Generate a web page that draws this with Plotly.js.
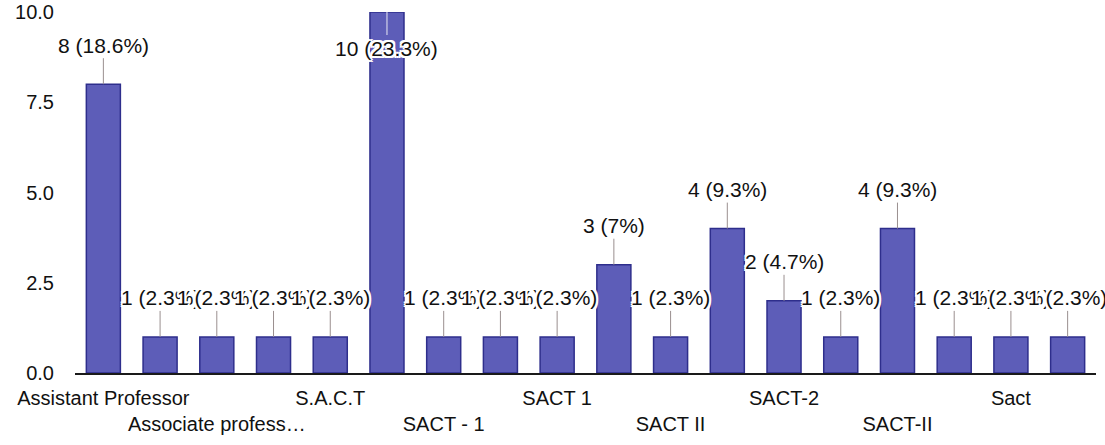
<!DOCTYPE html>
<html>
<head>
<meta charset="utf-8">
<script src="https://cdn.plot.ly/plotly-3.0.1.min.js"></script>
<style>html,body{margin:0;padding:0;background:#fff;}#chart{width:1105px;height:445px;}</style>
</head>
<body>
<div id="chart"></div>
<script>
// Categories (sorted as in the source chart); only every other one is labelled
const categories = [
  "Assistant Professor", "Assistant professor", "Associate professor", "Guest Lecturer",
  "S.A.C.T", "SACT", "SACT - 1", "SACT - II", "SACT 1", "SACT I", "SACT II",
  "SACT-1", "SACT-2", "SACT-I", "SACT-II", "SACT1", "Sact", "State Aided College Teacher"
];
const counts = [8, 1, 1, 1, 1, 10, 1, 1, 1, 3, 1, 4, 2, 1, 4, 1, 1, 1];
const shownTicks = ["Assistant Professor", "Associate professor", "S.A.C.T", "SACT - 1",
  "SACT 1", "SACT II", "SACT-2", "SACT-II", "Sact"];
const shownTickText = ["Assistant Professor", "<br>Associate profess…", "S.A.C.T", "<br>SACT - 1",
  "SACT 1", "<br>SACT II", "SACT-2", "<br>SACT-II", "Sact"];
const yTicks = [0, 2.5, 5, 7.5, 10];
const yMax = 10;

const total = counts.reduce((a, b) => a + b, 0);
const labels = counts.map(c => c + " (" + parseFloat((100 * c / total).toFixed(1)) + "%)");

const halo = "2px 0 0 #fff, -2px 0 0 #fff, 0 2px 0 #fff, 0 -2px 0 #fff, 2px 2px 0 #fff, -2px -2px 0 #fff, 2px -2px 0 #fff, -2px 2px 0 #fff";

const annotations = categories.map((c, i) => {
  const atTop = counts[i] >= yMax;
  return {
    x: c, y: counts[i], xref: "x", yref: "y",
    text: labels[i], showarrow: true, arrowhead: 0, arrowwidth: 1,
    arrowcolor: atTop ? "#e8e8f4" : "#9a8f8f",
    ax: 0, ay: atTop ? 36 : -39, standoff: 0,
    font: {family: "Liberation Sans, Arial, sans-serif", size: 21, color: "#111", shadow: halo}
  };
});

const trace = {
  type: "bar", x: categories, y: counts,
  marker: {color: "#5d5db8", line: {color: "#2e2e8c", width: 1.5}},
  hoverinfo: "x+y"
};

const layout = {
  width: 1105, height: 445,
  margin: {l: 75, r: 9, t: 12, b: 72},
  paper_bgcolor: "#fff", plot_bgcolor: "#fff",
  bargap: 0.4,
  showlegend: false,
  font: {family: "Liberation Sans, Arial, sans-serif", size: 20, color: "#111"},
  xaxis: {
    type: "category", range: [-0.5, categories.length - 0.5],
    tickmode: "array", tickvals: shownTicks, ticktext: shownTickText,
    tickangle: 0, showline: true, linecolor: "#1a1a1a", linewidth: 2, automargin: false,
    showgrid: false, ticks: "", ticklabelstandoff: 6,
    tickfont: {size: 20, color: "#111"}
  },
  yaxis: {
    range: [0, yMax], tickmode: "array", tickvals: yTicks, tickformat: ".1f", automargin: false,
    showgrid: false, zeroline: false, showline: false, ticks: "",
    ticklabelstandoff: 20, tickfont: {size: 20, color: "#111"}
  },
  annotations: annotations
};

Plotly.newPlot("chart", [trace], layout, {displayModeBar: false, staticPlot: true});
</script>
</body>
</html>
